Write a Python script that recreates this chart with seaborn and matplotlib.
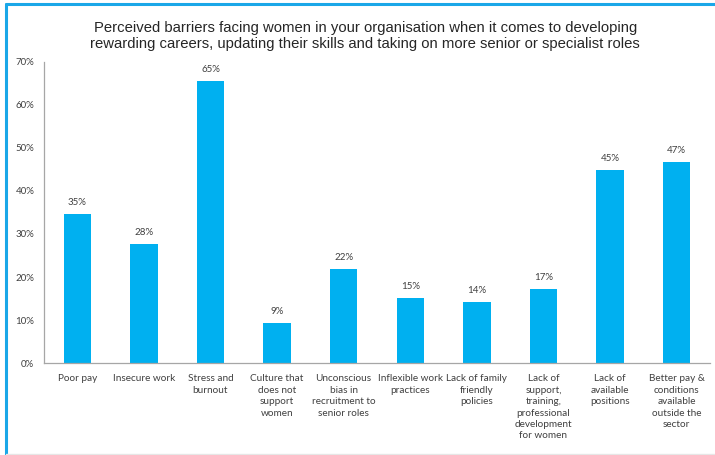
import matplotlib
matplotlib.use("Agg")
import matplotlib.pyplot as plt
import seaborn as sns
import pandas as pd
import numpy as np
from matplotlib.lines import Line2D

categories = ["Poor pay", "Insecure work", "Stress and\nburnout",
              "Culture that\ndoes not\nsupport\nwomen",
              "Unconscious\nbias in\nrecruitment to\nsenior roles",
              "Inflexible work\npractices", "Lack of family\nfriendly\npolicies",
              "Lack of\nsupport,\ntraining,\nprofessional\ndevelopment\nfor women",
              "Lack of\navailable\npositions",
              "Better pay &\nconditions\navailable\noutside the\nsector"]
values = [34.6, 27.6, 65.5, 9.3, 21.9, 15.2, 14.2, 17.3, 44.9, 46.8]
labels = ["35%", "28%", "65%", "9%", "22%", "15%", "14%", "17%", "45%", "47%"]
yticks = [0, 10, 20, 30, 40, 50, 60, 70]
title = ("Perceived barriers facing women in your organisation when it comes to developing\n"
         "rewarding careers, updating their skills and taking on more senior or specialist roles")

sns.set_style("white")
plt.rcParams['font.family'] = ['Lato', 'DejaVu Sans']

df = pd.DataFrame({"cat": categories, "val": values})
fig = plt.figure(figsize=(7.15, 4.55), dpi=100)
ax = fig.add_axes([0.0615, 0.202, 0.9315, 0.662])
sns.barplot(data=df, x="cat", y="val", color="#00B0F0", width=0.41, ax=ax,
            saturation=1, edgecolor="none")
ax.set_ylim(0, 70)
ax.set_xlim(-0.5, len(categories) - 0.5)
ax.set_yticks(yticks)
ax.set_yticklabels([f"{t}%" for t in yticks], fontsize=7, color="#404040")
ax.set_xticks(range(len(categories)))
ax.set_xticklabels(categories, fontsize=7.2, color="#404040", linespacing=1.35)
ax.tick_params(axis="x", which="major", length=0, pad=8)
ax.set_xticks(np.arange(-0.5, len(categories)), minor=True)
ax.tick_params(axis="x", which="minor", length=4, color="#A6A6A6", width=0.8, direction="out")
ax.tick_params(axis="y", length=4, color="#A6A6A6", width=0.8, direction="out", pad=3)
ax.set_xlabel("")
ax.set_ylabel("")
for s in ["top", "right"]:
    ax.spines[s].set_visible(False)
for s in ["left", "bottom"]:
    ax.spines[s].set_color("#A6A6A6")
    ax.spines[s].set_linewidth(0.9)

for i, (v, l) in enumerate(zip(values, labels)):
    ax.text(i, v + 1.6, l, ha="center", va="bottom", fontsize=7, color="#404040")

fig.text(0.511, 0.954, title, ha="center", va="top", fontsize=10.75,
         family=["Liberation Sans", "DejaVu Sans"], color="#262626", linespacing=1.22)

# blue frame lines (top and left)
fig.add_artist(Line2D([6/715, 1.0], [1 - 4/455, 1 - 4/455], color="#1AA7E8", lw=2.2,
                      transform=fig.transFigure))
fig.add_artist(Line2D([6/715, 6/715], [0, 1 - 4/455], color="#1AA7E8", lw=2.2,
                      transform=fig.transFigure))
fig.add_artist(Line2D([6/715, 1.0], [1.5/455, 1.5/455], color="#E6E6E6", lw=1,
                      transform=fig.transFigure))

fig.savefig("out.png", dpi=100)
